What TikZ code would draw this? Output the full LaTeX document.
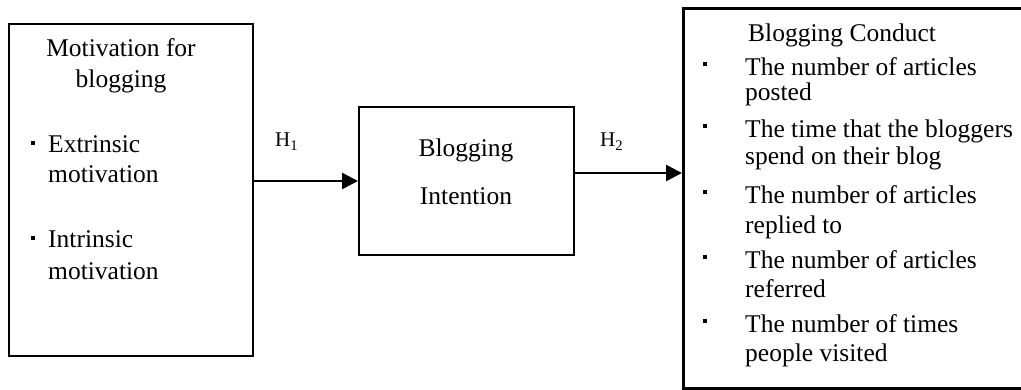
\documentclass[tikz,border=0pt]{standalone}
\usepackage{fontspec}
\setmainfont{Liberation Serif}
\usetikzlibrary{arrows.meta}
\begin{document}
\begin{tikzpicture}[x=1pt,y=-1pt,
  box/.style={draw=black,line width=2pt,inner sep=0pt,anchor=north west},
  bigbox/.style={draw=black,line width=2.6pt,inner sep=0pt,anchor=north west},
  txt/.style={inner sep=0pt,font=\fontsize{25.5}{30}\selectfont},
  ltxt/.style={txt,anchor=base west},
  ctxt/.style={txt,anchor=base},
  hlabel/.style={inner sep=0pt,anchor=base west,font=\fontsize{21}{25}\selectfont},
  bul/.style={fill=black,inner sep=0pt,minimum size=4.2pt,draw=none},
  conn/.style={line width=2.6pt,-{Triangle[length=16pt,width=16pt]}}]
\useasboundingbox (0,0) rectangle (1021,390);
% boxes
\node[box,minimum width=244pt,minimum height=332pt] (left) at (8,23) {};
\node[box,minimum width=215pt,minimum height=148pt] (mid) at (358,106) {};
\node[bigbox,minimum width=345pt,minimum height=380pt] (right) at (682,7) {};
% left box text
\node[ctxt] (m1) at (121,57) {Motivation for};
\node[ctxt] (m2) at (121,88) {blogging};
\node[bul] (lb1) at (33,143) {};
\node[ltxt] (e1) at (48,153) {Extrinsic};
\node[ltxt] (e2) at (48,183) {motivation};
\node[bul] (lb2) at (33,238) {};
\node[ltxt] (i1) at (48,248) {Intrinsic};
\node[ltxt] (i2) at (48,280) {motivation};
% middle box text
\node[ctxt] (b1) at (466,157) {Blogging};
\node[ctxt] (b2) at (466,205) {Intention};
% labels
\node[hlabel] (h1) at (275,147) {H\textsubscript{1}};
\node[hlabel] (h2) at (600,147) {H\textsubscript{2}};
% right box text
\node[ltxt] (c0) at (748,42) {Blogging Conduct};
\node[bul] (rb1) at (705,64) {};
\node[ltxt] (c1) at (745,76) {The number of articles};
\node[ltxt] (c2) at (745,101) {posted};
\node[bul] (rb2) at (705,126) {};
\node[ltxt] (c3) at (745,138) {The time that the bloggers};
\node[ltxt] (c4) at (745,165) {spend on their blog};
\node[bul] (rb3) at (705,192) {};
\node[ltxt] (c5) at (745,204) {The number of articles};
\node[ltxt] (c6) at (745,234) {replied to};
\node[bul] (rb4) at (705,257) {};
\node[ltxt] (c7) at (745,269) {The number of articles};
\node[ltxt] (c8) at (745,298) {referred};
\node[bul] (rb5) at (705,321) {};
\node[ltxt] (c9) at (745,333) {The number of times};
\node[ltxt] (c10) at (745,362) {people visited};
% connectors
\coordinate (a1y) at (0,181);
\coordinate (a2y) at (0,173);
\draw[conn] (left.east |- a1y) -- (mid.west |- a1y);
\draw[conn] (mid.east |- a2y) -- (right.west |- a2y);
\end{tikzpicture}
\end{document}
